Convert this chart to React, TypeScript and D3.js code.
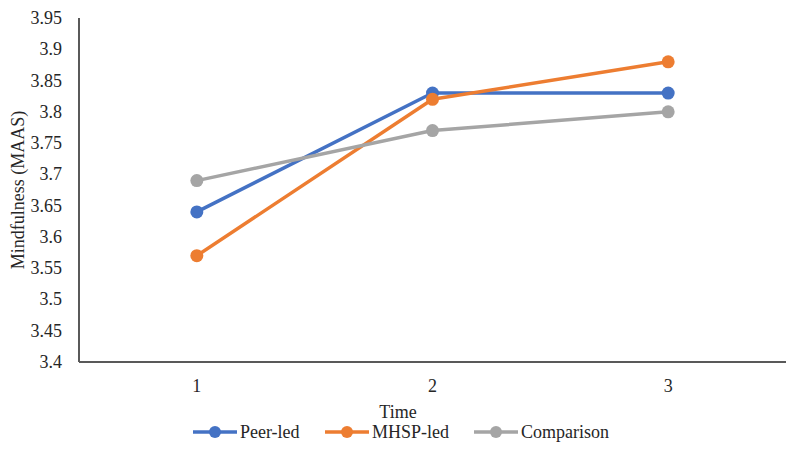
import React from "react";
import * as d3 from "d3";

const categories = ["1", "2", "3"];
const peerLed = [3.64, 3.83, 3.83];
const mhspLed = [3.57, 3.82, 3.88];
const comparison = [3.69, 3.77, 3.8];
const seriesNames = ["Peer-led", "MHSP-led", "Comparison"];
const seriesColors = ["#4472C4", "#ED7D31", "#A5A5A5"];
const yTicks = [3.4, 3.45, 3.5, 3.55, 3.6, 3.65, 3.7, 3.75, 3.8, 3.85, 3.9, 3.95];

const font = "Liberation Serif";
const tStyle = { fontFamily: font, fontSize: "18px" } as React.CSSProperties;

export default function App() {
  const W = 800, H = 461;
  const left = 79, right = 786, top = 18, bottom = 362;
  const x = d3.scaleBand<string>().domain(categories).range([left, right]);
  const y = d3.scaleLinear().domain([3.4, 3.95]).range([bottom, top]);
  const cx = (i: number) => (x(categories[i]) as number) + x.bandwidth() / 2;
  const line = d3.line<number>().x((_, i) => cx(i)).y((d) => y(d));
  const series = [peerLed, mhspLed, comparison];
  const legendItems = [
    { lx: 193, tx: 240 },
    { lx: 325, tx: 372 },
    { lx: 474, tx: 521 },
  ];
  return (
    <svg width={W} height={H} style={{ position: "absolute", left: 0, top: 0, background: "#fff" }}>
      {yTicks.map((t) => (
        <text key={t} x={62} y={y(t) + 6} textAnchor="end" style={tStyle} fill="#262626">
          {String(+t.toFixed(2))}
        </text>
      ))}
      <text transform={`translate(24,${(top + bottom) / 2}) rotate(-90)`} textAnchor="middle" style={tStyle} fill="#262626">
        Mindfulness (MAAS)
      </text>
      <line x1={left} x2={left} y1={top} y2={bottom} stroke="#000" strokeWidth={1.3} />
      <line x1={left} x2={right} y1={bottom} y2={bottom} stroke="#595959" strokeWidth={2.2} />
      {categories.map((c, i) => (
        <text key={c} x={cx(i)} y={392} textAnchor="middle" style={tStyle} fill="#262626">
          {c}
        </text>
      ))}
      <text x={398} y={418} textAnchor="middle" style={tStyle} fill="#262626">Time</text>
      {series.map((s, i) => (
        <g key={i}>
          <path d={line(s) || ""} fill="none" stroke={seriesColors[i]} strokeWidth={3.5} strokeLinejoin="round" />
          {s.map((v, j) => (
            <circle key={j} cx={cx(j)} cy={y(v)} r={6.5} fill={seriesColors[i]} />
          ))}
        </g>
      ))}
      {legendItems.map((it, i) => (
        <g key={i}>
          <line x1={it.lx} x2={it.lx + 44} y1={432} y2={432} stroke={seriesColors[i]} strokeWidth={3.5} />
          <circle cx={it.lx + 22} cy={432} r={6} fill={seriesColors[i]} />
          <text x={it.tx} y={438} style={tStyle} fill="#262626">{seriesNames[i]}</text>
        </g>
      ))}
    </svg>
  );
}
